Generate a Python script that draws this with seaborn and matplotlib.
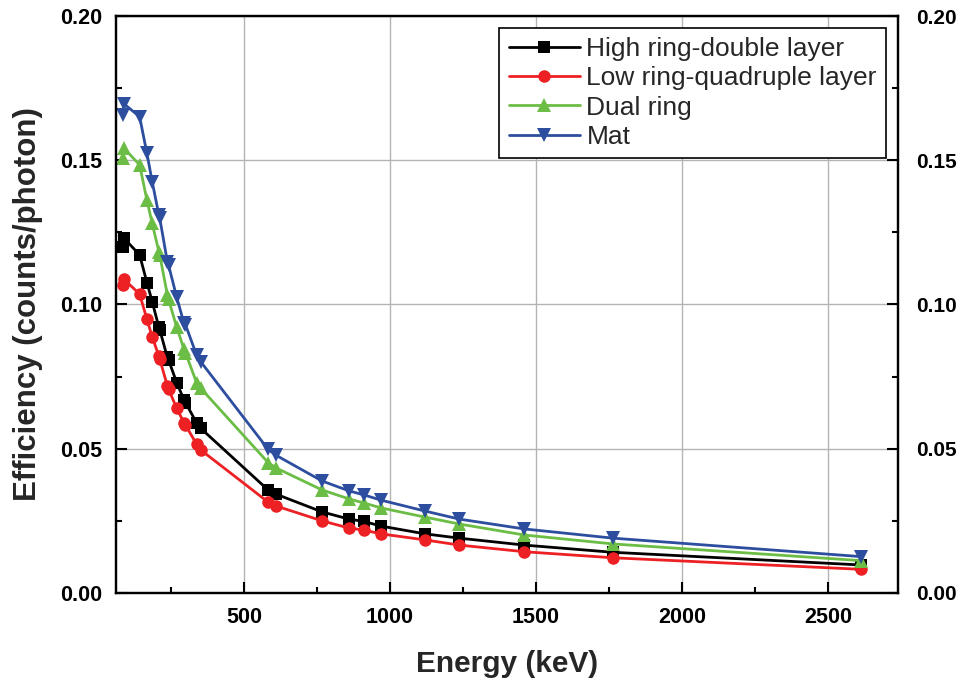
import numpy as np
import pandas as pd
import matplotlib
matplotlib.use('Agg')
import matplotlib.pyplot as plt
from matplotlib.lines import Line2D
from matplotlib.ticker import MultipleLocator, FormatStrFormatter
import seaborn as sns

# gamma energies (keV)
energy = [85, 90, 143, 168, 186, 209, 212, 238, 242, 270, 295, 300, 338, 352,
          583, 609, 768, 860, 911, 969, 1120, 1238, 1460, 1764, 2614]

# efficiency (counts/photon)
high_ring_double = [0.1200, 0.1229, 0.1172, 0.1076, 0.1010, 0.0921, 0.0912, 0.0817, 0.0808,
                    0.0729, 0.0669, 0.0660, 0.0590, 0.0571,
                    0.0357, 0.0343, 0.0281, 0.0256, 0.0248, 0.0232, 0.0205, 0.0190,
                    0.0166, 0.0141, 0.0097]
low_ring_quadruple = [0.1068, 0.1087, 0.1036, 0.0949, 0.0888, 0.0821, 0.0810, 0.0718, 0.0707,
                      0.0640, 0.0590, 0.0582, 0.0516, 0.0496,
                      0.0315, 0.0302, 0.0250, 0.0225, 0.0218, 0.0205, 0.0184, 0.0166,
                      0.0143, 0.0122, 0.0082]
dual_ring = [0.1507, 0.1541, 0.1484, 0.1362, 0.1281, 0.1183, 0.1172, 0.1033, 0.1018,
             0.0921, 0.0845, 0.0833, 0.0729, 0.0710,
             0.0452, 0.0434, 0.0357, 0.0326, 0.0312, 0.0295, 0.0263, 0.0239,
             0.0201, 0.0170, 0.0112]
mat = [0.1657, 0.1695, 0.1651, 0.1524, 0.1426, 0.1310, 0.1299, 0.1148, 0.1137,
       0.1025, 0.0935, 0.0930, 0.0825, 0.0802,
       0.0498, 0.0478, 0.0388, 0.0354, 0.0340, 0.0322, 0.0284, 0.0256,
       0.0222, 0.0190, 0.0126]

names = ['High ring-double layer', 'Low ring-quadruple layer', 'Dual ring', 'Mat']
colors = ['#000000', '#ed2024', '#6cbd45', '#2d4e9f']
markers = ['s', 'o', '^', 'v']
msizes = [8, 9, 10, 10]

df = pd.concat([
    pd.DataFrame({'Energy': energy, 'Efficiency': vals, 'Detector': name})
    for name, vals in zip(names, [high_ring_double, low_ring_quadruple, dual_ring, mat])
])

sns.set_theme(style='white')
plt.rcParams['font.family'] = ['Liberation Sans', 'DejaVu Sans']

fig = plt.figure(figsize=(9.6, 6.79), dpi=100)
ax = fig.add_axes([0.1208, 0.1267, 0.8146, 0.8497])

sns.lineplot(data=df, x='Energy', y='Efficiency', hue='Detector', style='Detector',
             palette=colors, markers=markers, dashes=False, sort=False, legend=False,
             linewidth=2.0, markersize=9, markeredgewidth=0, ax=ax)

# per-series marker size
for line, ms in zip(ax.lines, msizes):
    line.set_markersize(ms)

ax.set_xlim(62, 2740)
ax.set_ylim(0, 0.2)
ax.set_xticks([500, 1000, 1500, 2000, 2500])
ax.xaxis.set_minor_locator(MultipleLocator(250))
ax.yaxis.set_major_locator(MultipleLocator(0.05))
ax.yaxis.set_minor_locator(MultipleLocator(0.025))
ax.yaxis.set_major_formatter(FormatStrFormatter('%.2f'))

ax.grid(True, which='major', color='#b4b4b4', linewidth=1.0)
ax.set_axisbelow(True)

for sp in ax.spines.values():
    sp.set_linewidth(1.6)
    sp.set_color('black')

ax.tick_params(which='both', direction='in', left=True, right=False, bottom=True, top=False,
               width=1.5, colors='black')
ax.tick_params(which='major', length=8, labelsize=15.5, pad=10)
ax.tick_params(which='minor', length=4.5)
for lab in ax.get_xticklabels() + ax.get_yticklabels():
    lab.set_fontweight('bold')

# mirrored right axis
ax2 = ax.twinx()
ax2.set_ylim(ax.get_ylim())
ax2.yaxis.set_major_locator(MultipleLocator(0.05))
ax2.yaxis.set_minor_locator(MultipleLocator(0.025))
ax2.yaxis.set_major_formatter(FormatStrFormatter('%.2f'))
ax2.tick_params(which='both', direction='in', width=1.5, colors='black')
ax2.tick_params(which='major', length=8, labelsize=15, pad=13)
ax2.tick_params(which='minor', length=4.5)
for lab in ax2.get_yticklabels():
    lab.set_fontweight('bold')
for sp in ax2.spines.values():
    sp.set_linewidth(1.6)
    sp.set_color('black')

ax.set_xlabel('Energy (keV)', fontsize=21.5, fontweight='bold', labelpad=16)
ax.set_ylabel('Efficiency (counts/photon)', fontsize=22.5, fontweight='bold', labelpad=12)

handles = [Line2D([], [], color=c, marker=m, markersize=ms, markeredgewidth=0, linewidth=2.0)
           for c, m, ms in zip(colors, markers, msizes)]
leg = ax2.legend(handles, names, loc='upper right', fontsize=19, frameon=True, fancybox=False,
                 edgecolor='black', framealpha=1, handlelength=2.7, handletextpad=0.25,
                 labelspacing=0.2, borderaxespad=0.45, borderpad=0.35)
leg.get_frame().set_linewidth(1.2)

fig.savefig('out.png', dpi=100)
